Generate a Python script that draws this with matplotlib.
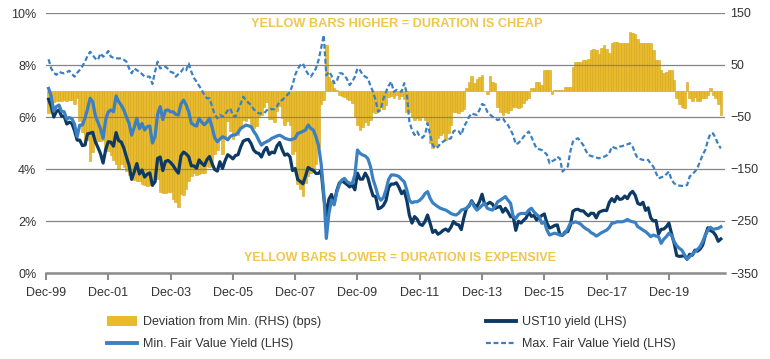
import numpy as np
import matplotlib
matplotlib.use("Agg")
import matplotlib.pyplot as plt
from matplotlib.patches import Patch
from matplotlib.lines import Line2D

plt.rcParams['font.family'] = ['Liberation Sans', 'DejaVu Sans']

# monthly, Jan-00 .. Aug-21
ust10 = [
    6.68, 6.41, 6.00, 6.21, 6.27, 6.03, 6.03, 5.73, 5.80, 5.75, 5.47, 5.11,
    5.11, 4.90, 4.92, 5.35, 5.38, 5.41, 5.05, 4.83, 4.59, 4.23, 4.75, 5.05,
    5.03, 4.88, 5.40, 5.09, 5.04, 4.80, 4.46, 4.14, 3.60, 3.89, 4.21, 3.81,
    3.96, 3.69, 3.80, 3.85, 3.37, 3.51, 4.41, 4.46, 3.94, 4.29, 4.33, 4.25,
    4.13, 3.97, 3.84, 4.51, 4.65, 4.58, 4.47, 4.12, 4.12, 4.03, 4.35, 4.22,
    4.13, 4.36, 4.48, 4.20, 3.98, 3.92, 4.28, 4.02, 4.32, 4.55, 4.48, 4.39,
    4.52, 4.55, 4.85, 5.07, 5.12, 5.14, 4.98, 4.73, 4.63, 4.60, 4.46, 4.70,
    4.83, 4.56, 4.65, 4.62, 4.89, 5.02, 4.74, 4.53, 4.58, 4.47, 3.94, 4.02,
    3.59, 3.52, 3.43, 3.73, 4.06, 3.99, 3.95, 3.83, 3.83, 3.95, 2.93, 2.21,
    2.84, 3.02, 2.66, 3.16, 3.46, 3.54, 3.48, 3.40, 3.31, 3.39, 3.20, 3.84,
    3.61, 3.61, 3.84, 3.66, 3.29, 2.97, 2.94, 2.47, 2.51, 2.60, 2.79, 3.29,
    3.42, 3.42, 3.47, 3.29, 3.05, 3.16, 2.80, 2.22, 1.92, 2.17, 2.07, 1.88,
    1.83, 1.98, 2.23, 1.91, 1.56, 1.64, 1.49, 1.55, 1.64, 1.69, 1.61, 1.76,
    1.98, 1.88, 1.85, 1.67, 2.13, 2.49, 2.58, 2.78, 2.61, 2.55, 2.74, 3.03,
    2.64, 2.65, 2.72, 2.65, 2.48, 2.53, 2.56, 2.34, 2.49, 2.34, 2.16, 2.17,
    1.64, 1.99, 1.92, 2.03, 2.12, 2.35, 2.18, 2.21, 2.04, 2.14, 2.21, 2.27,
    1.92, 1.73, 1.77, 1.83, 1.85, 1.47, 1.45, 1.58, 1.59, 1.83, 2.37, 2.44,
    2.45, 2.39, 2.39, 2.28, 2.20, 2.30, 2.29, 2.12, 2.33, 2.38, 2.41, 2.40,
    2.71, 2.86, 2.74, 2.95, 2.83, 2.85, 2.96, 2.86, 3.05, 3.14, 2.99, 2.68,
    2.63, 2.72, 2.41, 2.51, 2.12, 2.00, 2.02, 1.50, 1.68, 1.69, 1.78, 1.92,
    1.51, 1.15, 0.67, 0.64, 0.65, 0.66, 0.53, 0.72, 0.68, 0.88, 0.84, 0.92,
    1.07, 1.44, 1.74, 1.63, 1.58, 1.45, 1.22, 1.31,
]

min_fv = [
    7.10, 6.80, 6.22, 6.40, 6.46, 6.22, 6.20, 5.92, 5.98, 5.93, 5.72, 5.24,
    5.69, 5.69, 5.95, 6.30, 6.72, 6.59, 6.05, 5.80, 5.55, 5.18, 5.90, 6.20,
    6.27, 6.20, 6.81, 6.59, 6.45, 6.27, 6.00, 5.76, 5.30, 5.60, 5.95, 5.55,
    5.75, 5.50, 5.63, 5.65, 5.00, 5.25, 6.10, 6.40, 5.90, 6.25, 6.27, 6.20,
    6.20, 6.10, 6.08, 6.50, 6.65, 6.46, 6.20, 5.76, 5.69, 5.65, 5.95, 5.80,
    5.70, 5.80, 5.95, 5.60, 5.20, 5.05, 5.15, 5.24, 5.20, 5.12, 5.25, 5.31,
    5.31, 5.40, 5.56, 5.62, 5.69, 5.66, 5.63, 5.45, 5.31, 5.10, 4.92, 5.00,
    5.05, 5.10, 5.18, 5.22, 5.27, 5.30, 5.25, 5.18, 5.15, 5.12, 5.15, 5.18,
    5.37, 5.40, 5.45, 5.50, 5.69, 5.56, 5.50, 5.24, 4.90, 4.20, 3.10, 1.33,
    2.29, 2.81, 2.62, 3.10, 3.40, 3.58, 3.64, 3.51, 3.45, 3.45, 3.77, 4.73,
    4.60, 4.54, 4.50, 4.40, 4.10, 3.60, 3.30, 2.94, 2.80, 2.90, 3.20, 3.60,
    3.77, 3.77, 3.75, 3.71, 3.60, 3.51, 3.20, 2.80, 2.70, 2.74, 2.74, 2.80,
    2.90, 3.05, 3.13, 2.87, 2.70, 2.62, 2.55, 2.49, 2.45, 2.42, 2.36, 2.29,
    2.25, 2.23, 2.30, 2.42, 2.45, 2.49, 2.60, 2.74, 2.55, 2.42, 2.50, 2.60,
    2.68, 2.49, 2.45, 2.42, 2.55, 2.74, 2.80, 2.87, 2.94, 2.80, 2.68, 2.17,
    2.10, 2.25, 2.29, 2.29, 2.29, 2.42, 2.49, 2.35, 2.25, 2.17, 1.91, 1.97,
    1.65, 1.46, 1.50, 1.53, 1.50, 1.46, 1.48, 1.53, 1.70, 1.91, 1.93, 1.97,
    1.93, 1.88, 1.78, 1.70, 1.65, 1.55, 1.50, 1.42, 1.48, 1.55, 1.60, 1.65,
    1.75, 1.91, 1.93, 1.97, 1.97, 1.97, 2.00, 2.06, 2.00, 1.97, 1.95, 1.78,
    1.72, 1.65, 1.59, 1.50, 1.40, 1.46, 1.42, 1.40, 1.14, 1.30, 1.40, 1.53,
    1.45, 1.21, 1.05, 0.95, 0.88, 0.70, 0.53, 0.63, 0.72, 0.82, 0.91, 1.01,
    1.21, 1.45, 1.65, 1.76, 1.68, 1.70, 1.72, 1.78,
]

max_fv = [
    8.22, 7.87, 7.70, 7.62, 7.74, 7.70, 7.68, 7.72, 7.78, 7.65, 7.55, 7.70,
    7.81, 7.95, 8.13, 8.35, 8.51, 8.38, 8.25, 8.19, 8.45, 8.32, 8.40, 8.54,
    8.32, 8.28, 8.26, 8.25, 8.26, 8.20, 8.13, 7.87, 7.68, 7.87, 7.80, 7.74,
    7.65, 7.55, 7.55, 7.55, 7.27, 7.74, 8.13, 7.87, 7.90, 7.94, 7.85, 7.74,
    7.70, 7.55, 7.65, 7.74, 7.87, 7.80, 8.06, 7.74, 7.50, 7.36, 7.20, 7.04,
    6.85, 6.72, 6.72, 6.40, 6.10, 5.95, 6.08, 6.01, 6.10, 6.25, 6.33, 6.05,
    6.01, 6.27, 6.50, 6.78, 6.65, 6.55, 6.46, 6.30, 6.20, 6.14, 6.14, 6.14,
    6.25, 6.33, 6.30, 6.30, 6.40, 6.60, 6.65, 6.75, 6.85, 6.97, 7.23, 7.62,
    7.85, 8.00, 8.06, 7.81, 7.65, 7.55, 7.70, 7.87, 8.19, 8.65, 9.15, 7.60,
    7.74, 7.60, 7.30, 7.36, 7.68, 7.68, 7.60, 7.45, 7.23, 7.36, 7.55, 7.87,
    7.80, 7.62, 7.55, 7.49, 7.20, 6.97, 6.65, 6.20, 6.30, 6.70, 6.97, 7.20,
    7.36, 6.97, 7.04, 7.00, 6.97, 7.30, 6.90, 5.82, 5.50, 5.31, 5.44, 5.25,
    5.20, 5.31, 5.76, 5.31, 4.92, 4.79, 4.85, 4.99, 5.05, 5.12, 5.15, 5.18,
    5.45, 5.50, 5.45, 5.31, 5.63, 5.80, 6.01, 6.14, 6.10, 6.08, 6.27, 6.50,
    6.45, 6.20, 6.10, 6.01, 5.95, 5.88, 5.92, 5.95, 5.80, 5.69, 5.50, 5.30,
    4.95, 5.00, 5.10, 5.24, 5.35, 5.44, 5.24, 5.00, 4.79, 4.76, 4.73, 4.65,
    4.55, 4.22, 4.30, 4.35, 4.47, 4.40, 3.90, 4.00, 4.09, 4.67, 5.05, 5.15,
    5.18, 5.05, 4.92, 4.70, 4.54, 4.50, 4.47, 4.44, 4.41, 4.45, 4.47, 4.52,
    4.60, 4.86, 4.82, 4.79, 4.86, 4.88, 4.92, 4.95, 4.99, 4.86, 4.60, 4.41,
    4.38, 4.35, 4.35, 4.35, 4.20, 4.09, 3.85, 3.64, 3.68, 3.71, 3.80, 3.90,
    3.58, 3.45, 3.38, 3.36, 3.35, 3.36, 3.38, 3.71, 3.80, 3.90, 4.05, 4.28,
    4.55, 4.73, 5.10, 5.37, 5.37, 5.18, 4.95, 4.79,
]

dev_bps = [
    -42, -40, -22, -19, -19, -19, -17, -19, -18, -18, -25, -13,
    -58, -79, -103, -95, -134, -118, -100, -97, -96, -95, -115, -115,
    -124, -132, -141, -150, -141, -147, -154, -162, -170, -171, -174, -174,
    -179, -181, -183, -180, -175, -174, -169, -194, -196, -196, -194, -195,
    -207, -213, -224, -199, -200, -188, -173, -164, -157, -162, -160, -158,
    -157, -144, -147, -140, -122, -113, -87, -122, -88, -57, -77, -92,
    -79, -85, -71, -55, -57, -52, -65, -72, -68, -50, -46, -30,
    -22, -54, -53, -60, -38, -28, -51, -65, -57, -65, -121, -116,
    -178, -188, -202, -177, -163, -157, -155, -141, -107, -25, -17, 88,
    27, 20, 5, 2, -8, -10, -12, -15, -17, -23, -50, -65,
    -75, -70, -60, -65, -55, -40, -42, -38, -30, -35, -27, -12,
    -10, -14, -8, -16, -10, -15, -40, -40, -50, -55, -52, -55,
    -50, -55, -60, -100, -110, -105, -90, -85, -80, -94, -80, -65,
    -40, -40, -43, -38, -35, 5, 18, 28, 15, 24, 27, 30,
    0, -5, 29, 18, 15, -30, -40, -46, -40, -42, -37, -30,
    -30, -33, -30, -24, -18, -14, 5, 5, 18, 18, 12, 40,
    40, 40, -5, 2, 2, 2, 2, 8, 8, 8, 47, 56,
    56, 56, 60, 60, 61, 78, 80, 79, 72, 82, 88, 80,
    74, 93, 94, 95, 93, 92, 92, 92, 114, 112, 110, 100,
    93, 93, 93, 93, 93, 78, 60, 60, 40, 35, 37, 40,
    40, 21, -14, -25, -30, -33, 18, -14, -20, -11, -20, -20,
    -14, -14, -8, 5, -8, -14, -25, -46,
]

tick_labels = ["Dec-99", "Dec-01", "Dec-03", "Dec-05", "Dec-07", "Dec-09",
               "Dec-11", "Dec-13", "Dec-15", "Dec-17", "Dec-19"]

NAVY = "#0c3a64"
BLUE = "#3b80c3"
GOLD = "#e8bb2e"
GOLD_EDGE = "#d8a418"
GOLD_TXT = "#f0c64c"
GRID = "#858585"
TXT = "#333333"

months = np.arange(1, len(ust10) + 1)

fig = plt.figure(figsize=(7.7, 3.59), dpi=100)
ax = fig.add_axes([46/770, 1-273/359, 679/770, 260/359])
ax2 = ax.twinx()

# bars on the right axis, drawn behind the lines
ax2.bar(months, dev_bps, width=1.0, color=GOLD, edgecolor=GOLD_EDGE, linewidth=0.4)
ax2.set_ylim(-350, 150)
ax2.set_yticks(range(-350, 151, 100))
ax.set_zorder(ax2.get_zorder() + 1)
ax.patch.set_visible(False)

ax.plot(months, ust10, color=NAVY, lw=2.3, zorder=3, solid_joinstyle="round")
ax.plot(months, min_fv, color=BLUE, lw=2.3, zorder=4, solid_joinstyle="round")
ax.plot(months, max_fv, color=BLUE, lw=1.6, ls=(0, (2.2, 1.2)), zorder=4)

ax.set_ylim(0, 10)
ax.set_yticks(range(0, 11, 2))
ax.set_yticklabels([f"{v}%" for v in range(0, 11, 2)])
ax.set_xlim(0, 261.6)
ax.set_xticks(np.arange(0, 241, 24))
ax.set_xticklabels(tick_labels)
ax.yaxis.grid(True, color=GRID, lw=0.9)

for a in (ax, ax2):
    for s in ("left", "right", "top"):
        a.spines[s].set_visible(False)
ax2.spines["bottom"].set_visible(False)
ax.spines["bottom"].set_color("#8c8c8c")
ax.spines["bottom"].set_linewidth(1.8)

ax.tick_params(axis="x", direction="out", length=5, width=1.5, color="#8c8c8c",
               labelsize=9, pad=5, labelcolor=TXT)
ax.tick_params(axis="y", length=0, labelsize=9, pad=7, labelcolor=TXT)
ax2.tick_params(axis="y", length=0, labelsize=9, pad=4, labelcolor=TXT)

ax.text(0.517, 0.958, "YELLOW BARS HIGHER = DURATION IS CHEAP", transform=ax.transAxes,
        ha="center", va="center", fontsize=9.2, fontweight="bold", color=GOLD_TXT)
ax.text(0.521, 0.056, "YELLOW BARS LOWER = DURATION IS EXPENSIVE", transform=ax.transAxes,
        ha="center", va="center", fontsize=9.0, fontweight="bold", color=GOLD_TXT)

h_dev = Patch(facecolor=GOLD, edgecolor="none", label="Deviation from Min. (RHS) (bps)")
h_min = Line2D([], [], color=BLUE, lw=2.8, label="Min. Fair Value Yield (LHS)")
h_ust = Line2D([], [], color=NAVY, lw=2.8, label="UST10 yield (LHS)")
h_max = Line2D([], [], color=BLUE, lw=1.6, ls=(0, (2.2, 1.2)), label="Max. Fair Value Yield (LHS)")

for hs, x0 in (([h_dev, h_min], 107), ([h_ust, h_max], 486)):
    fig.legend(handles=hs, loc="upper left", bbox_to_anchor=(x0/770, 1-316/359),
               frameon=False, fontsize=9, borderpad=0, borderaxespad=0,
               handlelength=2.4, handleheight=0.9, handletextpad=0.5,
               labelspacing=0.75, labelcolor=TXT)

fig.savefig("out.png", dpi=100)
